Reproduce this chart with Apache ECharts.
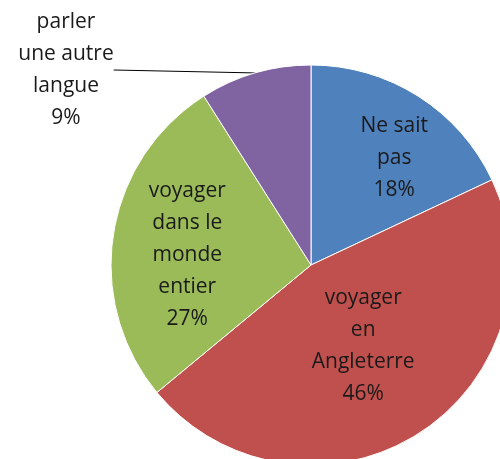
<!DOCTYPE html>
<html>
<head>
<meta charset="utf-8">
<title>pie</title>
<script src="https://cdn.jsdelivr.net/npm/echarts@6/dist/echarts.min.js"></script>
<style>html,body{margin:0;padding:0;background:#fff;}</style>
</head>
<body>
<div id="main" style="width:500px;height:459px;"></div>
<script>
var labels = ['Ne sait\npas', 'voyager\nen\nAngleterre', 'voyager\ndans le\nmonde\nentier', 'parler\nune autre\nlangue'];
var values = [18, 46, 27, 9];
var colors = ['#4F81BD', '#C0504D', '#9BBB59', '#8064A2'];
var offsets = [[28, -20], [-3, -6], [-22, 6], [0, 0]];

var myChart = echarts.init(document.getElementById('main'));

var data = [];
for (var i = 0; i < values.length; i++) {
    var item = {
        name: labels[i],
        value: values[i],
        itemStyle: {color: colors[i]},
        label: {position: 'inside', offset: offsets[i]}
    };
    if (i === 3) {
        item.label = {position: 'outside'};
        item.labelLine = {show: true, length: 20, length2: 0, lineStyle: {color: '#000', width: 1}};
    }
    data.push(item);
}

var option = {
    animation: false,
    series: [{
        type: 'pie',
        center: [311, 265],
        radius: 200,
        startAngle: 90,
        clockwise: true,
        itemStyle: {borderColor: '#fff', borderWidth: 1},
        label: {
            formatter: function (p) { return p.name + '\n' + p.value + '%'; },
            fontFamily: 'Open Sans',
            fontSize: 21,
            lineHeight: 32,
            color: '#1a1a1a',
            align: 'center'
        },
        labelLayout: function (p) {
            if (p.dataIndex === 3) {
                return {x: 66, y: 70, align: 'center', verticalAlign: 'middle'};
            }
        },
        data: data
    }]
};
myChart.setOption(option);
</script>
</body>
</html>
